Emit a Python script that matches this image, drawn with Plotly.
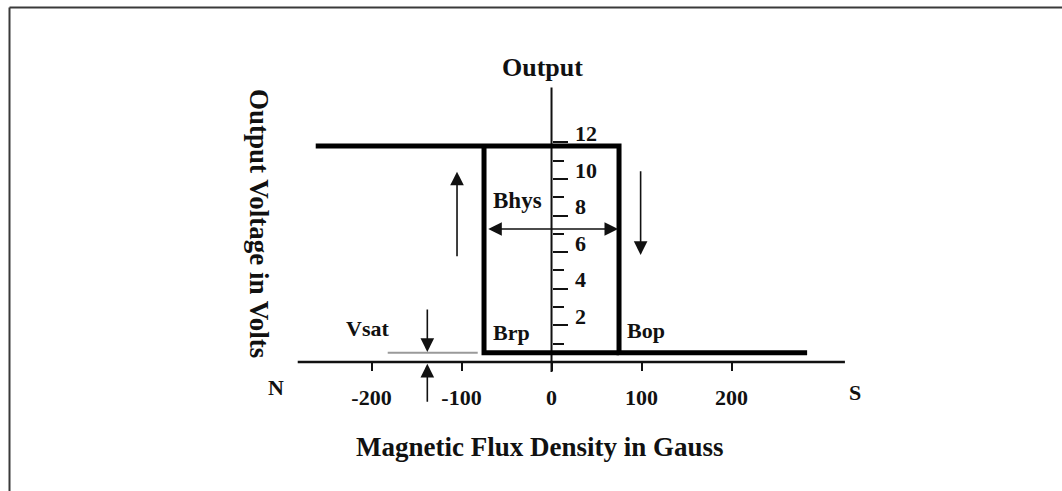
import plotly.graph_objects as go

# ---- data (Gauss / Volts) ----
B_rp = -75
B_op = 75
V_high = 11.8
V_low = 0.5
B_left_end = -262
B_right_end = 284

x_tick_vals = [-200, -100, 0, 100, 200]
x_tick_text = ["-200", "-100", "0", "100", "200"]
y_major_vals = [2, 4, 6, 8, 10, 12]
y_major_text = ["2", "4", "6", "8", "10", "12"]
y_minor_vals = [1, 3, 5, 7, 9, 11]

x_axis_extent = [-282, 326]
y_axis_extent = [-0.55, 15.0]

vsat_line_x = [-182, -82]
vsat_arrow_x = -138
vsat_down = [2.95, 0.55]
vsat_up = [-2.25, -0.1]

up_arrow_x = -105
up_arrow_y = [5.7, 10.4]
down_arrow_x = 99
down_arrow_y = [10.5, 5.85]
bhys_y = 7.27
bhys_x = [-72, 74]

labels = {
    "Output": (-10, 16.1),
    "Bhys": (-38, 8.85),
    "Brp": (-44, 1.6),
    "Bop": (105, 1.7),
    "Vsat": (-204, 1.85),
    "N": (-306, -1.4),
    "S": (337, -1.65),
}
x_title = "Magnetic Flux Density in Gauss"
y_title = "Output Voltage in Volts"
x_title_pos = (-13, -4.65)
y_title_pos = (-325, 7.6)

x_range = [-612.8, 567.2]
y_range = [-7.05, 19.78]

FONT = "Liberation Serif"
INK = "#111111"

fig = go.Figure()

# axes lines
fig.add_trace(go.Scatter(x=x_axis_extent, y=[0, 0], mode="lines",
                         line=dict(color=INK, width=2.5), hoverinfo="skip"))
fig.add_trace(go.Scatter(x=[0, 0], y=y_axis_extent, mode="lines",
                         line=dict(color=INK, width=2), hoverinfo="skip"))

# Vsat grey reference line
fig.add_trace(go.Scatter(x=vsat_line_x, y=[V_low, V_low], mode="lines",
                         line=dict(color="#9a9a9a", width=2), hoverinfo="skip"))

# hysteresis loop
loop_x = [B_left_end, B_op, B_op, B_right_end, None, B_rp, B_rp, B_op]
loop_y = [V_high, V_high, V_low, V_low, None, V_high, V_low, V_low]
fig.add_trace(go.Scatter(x=loop_x, y=loop_y, mode="lines",
                         line=dict(color="#000000", width=5), hoverinfo="skip"))

ann = []


def arrow(x0, y0, x1, y1, side="end"):
    ann.append(dict(x=x1, y=y1, ax=x0, ay=y0, xref="x", yref="y",
                    axref="x", ayref="y", text="", showarrow=True,
                    arrowhead=2, startarrowhead=2, arrowside=side,
                    arrowsize=1.7, startarrowsize=1.7, arrowwidth=1.6,
                    arrowcolor=INK))


arrow(vsat_arrow_x, vsat_down[0], vsat_arrow_x, vsat_down[1])
arrow(vsat_arrow_x, vsat_up[0], vsat_arrow_x, vsat_up[1])
arrow(up_arrow_x, up_arrow_y[0], up_arrow_x, up_arrow_y[1])
arrow(down_arrow_x, down_arrow_y[0], down_arrow_x, down_arrow_y[1])
arrow(bhys_x[0], bhys_y, bhys_x[1], bhys_y, side="end+start")

for txt, (lx, ly) in labels.items():
    size = 26 if txt == "Output" else (23 if txt == "Bhys" else 22)
    ann.append(dict(x=lx, y=ly, xref="x", yref="y", text=txt, showarrow=False,
                    font=dict(family=FONT, size=size, color=INK, weight="bold")))

ann.append(dict(x=x_title_pos[0], y=x_title_pos[1], xref="x", yref="y",
                text=x_title, showarrow=False,
                font=dict(family=FONT, size=27, color=INK, weight="bold")))
ann.append(dict(x=y_title_pos[0], y=y_title_pos[1], xref="x", yref="y",
                text=y_title, showarrow=False, textangle=90,
                font=dict(family=FONT, size=27, color=INK, weight="bold")))

x_pos = (0 - y_range[0]) / (y_range[1] - y_range[0])
y_pos = (0 - x_range[0]) / (x_range[1] - x_range[0])

fig.update_layout(
    width=1062, height=491,
    margin=dict(l=0, r=0, t=0, b=0),
    paper_bgcolor="white", plot_bgcolor="white",
    showlegend=False,
    annotations=ann,
    xaxis=dict(range=x_range, anchor="free", position=x_pos,
               showgrid=False, zeroline=False, showline=False,
               tickvals=x_tick_vals, ticktext=x_tick_text,
               ticks="outside", ticklen=8, tickwidth=2, tickcolor=INK,
               ticklabelstandoff=8,
               tickfont=dict(family=FONT, size=22, color=INK, weight="bold")),
    yaxis=dict(range=y_range, anchor="free", position=y_pos, side="right",
               showgrid=False, zeroline=False, showline=False,
               tickvals=y_major_vals, ticktext=y_major_text,
               ticks="outside", ticklen=15, tickwidth=2, tickcolor=INK,
               ticklabelshift=-9, ticklabelstandoff=3,
               minor=dict(tickvals=y_minor_vals, ticks="outside", ticklen=11,
                          tickwidth=2, tickcolor=INK),
               tickfont=dict(family=FONT, size=22, color=INK, weight="bold")),
    shapes=[
        dict(type="line", xref="paper", yref="paper", x0=9.5 / 1062, x1=1,
             y0=1 - 7.5 / 491, y1=1 - 7.5 / 491,
             line=dict(color="#3a3a3a", width=2)),
        dict(type="line", xref="paper", yref="paper", x0=9.5 / 1062, x1=9.5 / 1062,
             y0=0, y1=1 - 7.5 / 491, line=dict(color="#3a3a3a", width=2)),
    ],
)

fig.write_html("out.html", config={"displayModeBar": False},
               post_script="document.body.style.margin='0';document.body.style.overflow='hidden';")
